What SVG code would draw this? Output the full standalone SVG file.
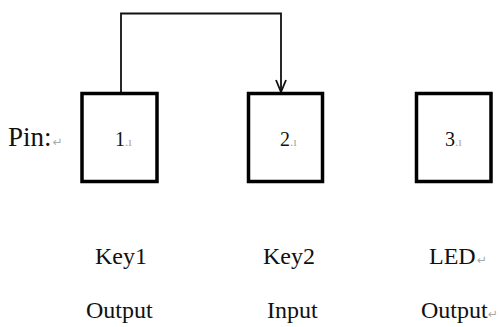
<svg xmlns="http://www.w3.org/2000/svg" width="503" height="327" viewBox="0 0 503 327">
<style>
.box{fill:#fff;stroke:#000;stroke-width:3.5}
.lbl{font-family:"Liberation Serif","Times New Roman",serif;fill:#111}
.big{font-size:24px}
.mark{font-family:"DejaVu Sans",sans-serif;fill:#aaa;font-size:12px}
.conn{fill:none;stroke:#111;stroke-width:1.8}
</style>
<defs>
<marker id="arr" viewBox="0 0 14 12" refX="13" refY="6" markerWidth="14" markerHeight="12" markerUnits="userSpaceOnUse" orient="auto">
<path d="M1,1 L13,6 L1,11" fill="none" stroke="#111" stroke-width="1.8"/>
</marker>
</defs>
<rect width="503" height="327" fill="#fff"/>
<g id="connectors">
<path class="conn" d="M121,92 V13.5 H281 V92" marker-end="url(#arr)"/>
</g>
<g id="pin-label">
<text class="lbl" x="8" y="146" font-size="27">Pin:<tspan class="mark" dx="1">↵</tspan></text>
</g>
<g id="node1">
<rect class="box" x="82" y="93.5" width="75" height="88"/>
<text class="lbl" x="115" y="146" font-size="20">1<tspan fill="#aaa" font-size="13">.ı</tspan></text>
</g>
<g id="node2">
<rect class="box" x="248.5" y="93.5" width="74" height="88"/>
<text class="lbl" x="280" y="146" font-size="20">2<tspan fill="#aaa" font-size="13">.ı</tspan></text>
</g>
<g id="node3">
<rect class="box" x="416.5" y="93.5" width="74.5" height="88"/>
<text class="lbl" x="445" y="146" font-size="20">3<tspan fill="#aaa" font-size="13">.ı</tspan></text>
</g>
<g id="label1">
<text class="lbl big" x="95" y="264">Key1</text>
<text class="lbl big" x="86" y="318">Output</text>
</g>
<g id="label2">
<text class="lbl big" x="263" y="264">Key2</text>
<text class="lbl big" x="267" y="318">Input</text>
</g>
<g id="label3">
<text class="lbl big" x="429" y="264">LED<tspan class="mark" dx="1">↵</tspan></text>
<text class="lbl big" x="421" y="318">Output<tspan class="mark">↵</tspan></text>
</g>
</svg>
